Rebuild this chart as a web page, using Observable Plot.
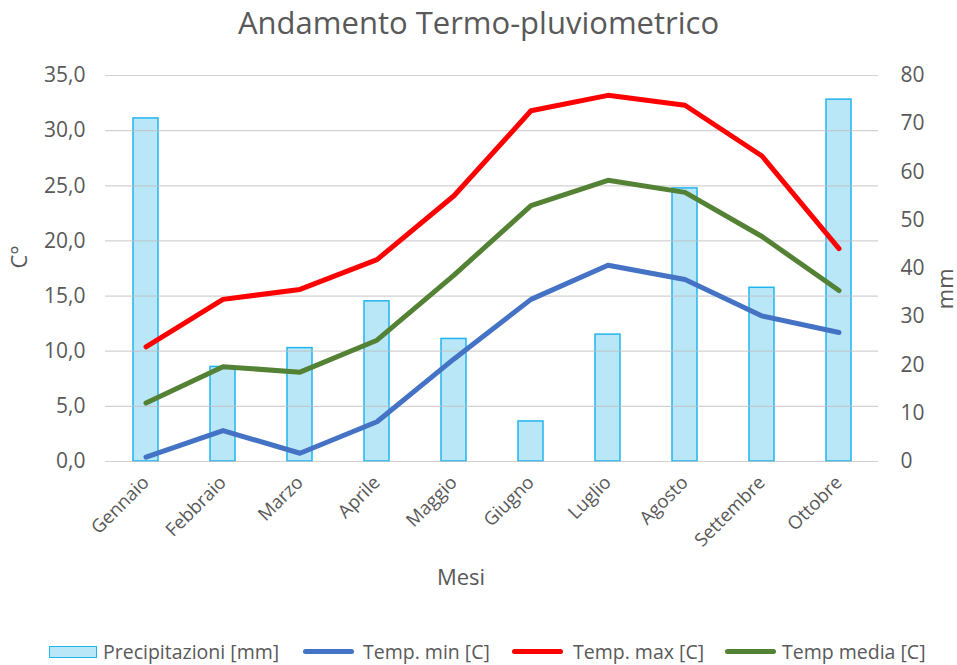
<!DOCTYPE html>
<html>
<head>
<meta charset="utf-8">
<script src="https://cdn.jsdelivr.net/npm/d3@7"></script>
<script src="https://cdn.jsdelivr.net/npm/@observablehq/plot@0.6"></script>
<style>
  html, body { margin: 0; padding: 0; background: #fff; }
  body { width: 957px; height: 665px; font-family: "Open Sans", sans-serif; color: #595959; position: relative; overflow: hidden; }
  #title { position: absolute; top: 0; left: 0; width: 957px; height: 45px; text-align: center; font-size: 31px; line-height: 45px; color: #595959; }
  #chart { position: absolute; top: 45px; left: 0; }
  #legend { position: absolute; top: 638px; left: 0; width: 957px; height: 27px; font-size: 19.5px; color: #595959; }
  .item { position: absolute; top: 0; height: 27px; line-height: 27px; white-space: nowrap; }
  .sw { position: absolute; }
</style>
</head>
<body>
<div id="title">Andamento Termo-pluviometrico</div>
<div id="chart"></div>
<div id="legend"></div>
<script>
const mesi = ["Gennaio","Febbraio","Marzo","Aprile","Maggio","Giugno","Luglio","Agosto","Settembre","Ottobre"];
const precipitazioni = [71.1, 19.6, 23.5, 33.2, 25.4, 8.3, 26.3, 56.6, 36.0, 75.0];
const tempMin = [0.4, 2.8, 0.75, 3.6, 9.3, 14.7, 17.8, 16.5, 13.2, 11.7];
const tempMax = [10.4, 14.7, 15.6, 18.3, 24.1, 31.8, 33.2, 32.3, 27.7, 19.3];
const tempMedia = [5.3, 8.6, 8.1, 11.0, 16.9, 23.2, 25.5, 24.4, 20.4, 15.5];
const ticksC = [0, 5, 10, 15, 20, 25, 30, 35];
const ticksMm = [0, 10, 20, 30, 40, 50, 60, 70, 80];

const mmToC = v => v * 35 / 80;
const gray = "#595959";

const rows = mesi.map((m, i) => ({
  mese: m, prec: mmToC(precipitazioni[i]), min: tempMin[i], max: tempMax[i], media: tempMedia[i]
}));

const chart = Plot.plot({
  width: 957,
  height: 575,
  marginTop: 30,
  marginBottom: 159,
  marginLeft: 105,
  marginRight: 79,
  style: { fontFamily: "'Open Sans', sans-serif", color: gray, background: "#fff", overflow: "visible" },
  x: { type: "band", domain: mesi, paddingInner: 0.68, paddingOuter: 0.34 },
  y: { domain: [0, 35] },
  marks: [
    Plot.barY(rows, { x: "mese", y: "prec", fill: "#b9e7f8", stroke: "#22b4ef", strokeWidth: 1.5 }),
    Plot.gridY(ticksC, { stroke: "#bfbfbf", strokeOpacity: 0.7, strokeWidth: 1.2 }),
    Plot.axisY(ticksC, { anchor: "left", tickSize: 0, tickPadding: 20, fontSize: 21, fill: gray, label: null,
      tickFormat: d => d.toFixed(1).replace(".", ",") }),
    Plot.axisY(ticksMm.map(mmToC), { anchor: "right", tickSize: 0, tickPadding: 22, fontSize: 21, fill: gray, label: null,
      tickFormat: d => String(Math.round(d * 80 / 35)) }),
    Plot.axisX(mesi, { anchor: "bottom", tickSize: 0, tickPadding: 18, tickRotate: -45, fontSize: 18.5, fill: gray, label: null }),
    Plot.lineY(rows, { x: "mese", y: "max", stroke: "#ff0000", strokeWidth: 5, strokeLinejoin: "round", strokeLinecap: "round" }),
    Plot.lineY(rows, { x: "mese", y: "media", stroke: "#548235", strokeWidth: 5, strokeLinejoin: "round", strokeLinecap: "round" }),
    Plot.lineY(rows, { x: "mese", y: "min", stroke: "#4472c4", strokeWidth: 5, strokeLinejoin: "round", strokeLinecap: "round" }),
    Plot.text(["Mesi"], { frameAnchor: "bottom", dx: -31, dy: 123, fontSize: 22, fill: gray }),
    Plot.text(["C°"], { frameAnchor: "left", dx: -86, rotate: -90, fontSize: 22, fill: gray }),
    Plot.text(["mm"], { frameAnchor: "right", dx: 67, rotate: -90, fontSize: 22, fill: gray })
  ]
});
document.getElementById("chart").appendChild(chart);

const legendItems = [
  { label: "Precipitazioni [mm]", type: "box", swX: 49, txX: 103, color: "#b9e7f8", stroke: "#22b4ef" },
  { label: "Temp. min [C]", type: "line", swX: 303, txX: 363, color: "#4472c4" },
  { label: "Temp. max [C]", type: "line", swX: 512, txX: 573, color: "#ff0000" },
  { label: "Temp media [C]", type: "line", swX: 725, txX: 782, color: "#548235" }
];
const legend = document.getElementById("legend");
legendItems.forEach(it => {
  const sw = document.createElement("div");
  sw.className = "sw";
  sw.style.left = it.swX + "px";
  if (it.type === "box") {
    sw.style.top = "8px"; sw.style.width = "46px"; sw.style.height = "10px";
    sw.style.background = it.color; sw.style.border = "1.5px solid " + it.stroke;
  } else {
    sw.style.top = "11px"; sw.style.width = "51px"; sw.style.height = "5px";
    sw.style.background = it.color; sw.style.borderRadius = "3px";
  }
  legend.appendChild(sw);
  const t = document.createElement("div");
  t.className = "item";
  t.style.left = it.txX + "px";
  t.textContent = it.label;
  legend.appendChild(t);
});
</script>
</body>
</html>
